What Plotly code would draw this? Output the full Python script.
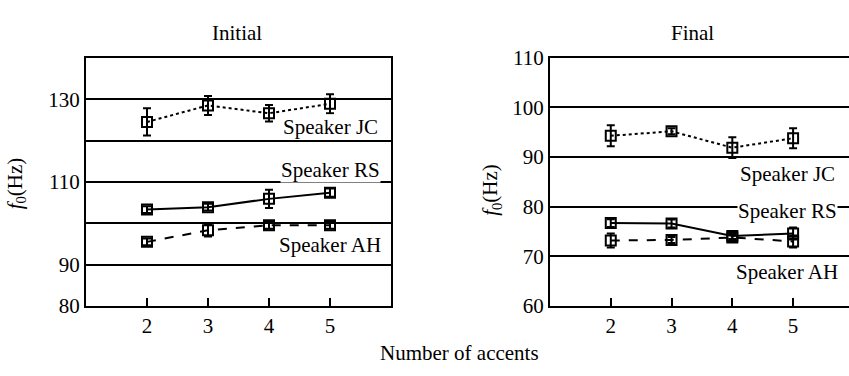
import plotly.graph_objects as go

accents = [2, 3, 4, 5]

# Initial panel
init_jc = [124.5, 128.5, 126.6, 128.9]
init_jc_err = [3.3, 2.3, 2.0, 2.3]
init_rs = [103.3, 103.9, 105.9, 107.4]
init_rs_err = [0.8, 0.8, 2.2, 1.0]
init_ah = [95.5, 98.3, 99.5, 99.5]
init_ah_err = [0.8, 1.5, 0.8, 0.8]

# Final panel
final_jc = [94.3, 95.2, 91.9, 93.8]
final_jc_err = [2.1, 0.6, 2.1, 2.0]
final_rs = [76.7, 76.6, 74.1, 74.6]
final_rs_err = [0.8, 0.8, 0.6, 1.2]
final_ah = [73.2, 73.3, 73.8, 73.0]
final_ah_err = [1.4, 0.6, 0.6, 1.2]

init_ticks = [80, 90, 110, 130]
init_minor_grid = [100, 120]
final_ticks = [60, 70, 80, 90, 100, 110]

FONT = "Liberation Serif"
FS = 21

fig = go.Figure()


def add_series(y, err, dash, xa, ya):
    fig.add_trace(go.Scatter(
        x=accents, y=y, xaxis=xa, yaxis=ya, mode="lines+markers",
        line=dict(color="black", width=2, dash=dash),
        marker=dict(symbol="square-open", size=10, color="black",
                    line=dict(width=2, color="black")),
        error_y=dict(type="data", array=err, visible=True, color="black",
                     thickness=2, width=4),
        showlegend=False, cliponaxis=False))


add_series(init_jc, init_jc_err, "dot", "x", "y")
add_series(init_rs, init_rs_err, "solid", "x", "y")
add_series(init_ah, init_ah_err, "dash", "x", "y")
add_series(final_jc, final_jc_err, "dot", "x2", "y2")
add_series(final_rs, final_rs_err, "solid", "x2", "y2")
add_series(final_ah, final_ah_err, "dash", "x2", "y2")

W, H = 849, 376
xcommon = dict(tickvals=accents, ticks="inside", ticklen=8, tickwidth=2,
               tickcolor="black", showgrid=False, zeroline=False,
               showline=True, linecolor="black", linewidth=2,
               tickfont=dict(family=FONT, size=FS, color="black"))
ycommon = dict(ticks="", showgrid=True, gridcolor="black", gridwidth=2,
               zeroline=False, showline=True, linecolor="black", linewidth=2,
               tickfont=dict(family=FONT, size=FS, color="black"))

fig.update_layout(
    width=W, height=H, margin=dict(l=0, r=0, t=0, b=0),
    paper_bgcolor="white", plot_bgcolor="white",
    font=dict(family=FONT, size=FS, color="black"),
    xaxis=dict(domain=[86 / W, 391 / W], range=[1, 6], mirror=True, anchor="y", **xcommon),
    yaxis=dict(domain=[1 - 314 / H, 1 - 49 / H], range=[80, 140], tickvals=init_ticks,
               minor=dict(tickvals=init_minor_grid, showgrid=True, gridcolor="black",
                          gridwidth=2, ticks=""),
               mirror=True, anchor="x", **ycommon),
    xaxis2=dict(domain=[550 / W, 1.0], range=[1, 5.92], mirror=True, anchor="y2", **xcommon),
    yaxis2=dict(domain=[1 - 314 / H, 1 - 49 / H], range=[60, 110], tickvals=final_ticks,
                mirror=False, anchor="x2", **ycommon),
)

ann = []
ann.append(dict(text="Initial", x=237 / W, y=1 - 22 / H, xref="paper", yref="paper",
                showarrow=False, xanchor="center", yanchor="middle"))
ann.append(dict(text="Final", x=692 / W, y=1 - 22 / H, xref="paper", yref="paper",
                showarrow=False, xanchor="center", yanchor="middle"))
ann.append(dict(text="Number of accents", x=460 / W, y=1 - 364 / H, xref="paper", yref="paper",
                showarrow=False, xanchor="center", yanchor="middle"))
ann.append(dict(text="<i>f</i><sub>0</sub>(Hz)", x=16 / W, y=1 - 183 / H, xref="paper",
                yref="paper", showarrow=False, textangle=-90, xanchor="center", yanchor="middle"))
ann.append(dict(text="<i>f</i><sub>0</sub>(Hz)", x=491 / W, y=1 - 190 / H, xref="paper",
                yref="paper", showarrow=False, textangle=-90, xanchor="center", yanchor="middle"))

speaker_labels = [
    ("Speaker JC", 5.0, 123.2, "x", "y"),
    ("Speaker RS", 5.0, 113.0, "x", "y"),
    ("Speaker AH", 5.0, 94.8, "x", "y"),
    ("Speaker JC", 4.9, 86.6, "x2", "y2"),
    ("Speaker RS", 4.9, 79.2, "x2", "y2"),
    ("Speaker AH", 4.9, 66.8, "x2", "y2"),
]
for t, x, y, xr, yr in speaker_labels:
    ann.append(dict(text=t, x=x, y=y, xref=xr, yref=yr, showarrow=False,
                    xanchor="center", yanchor="middle", bgcolor="white", borderpad=0))

fig.update_layout(annotations=ann)

fig.write_html("out.html")
